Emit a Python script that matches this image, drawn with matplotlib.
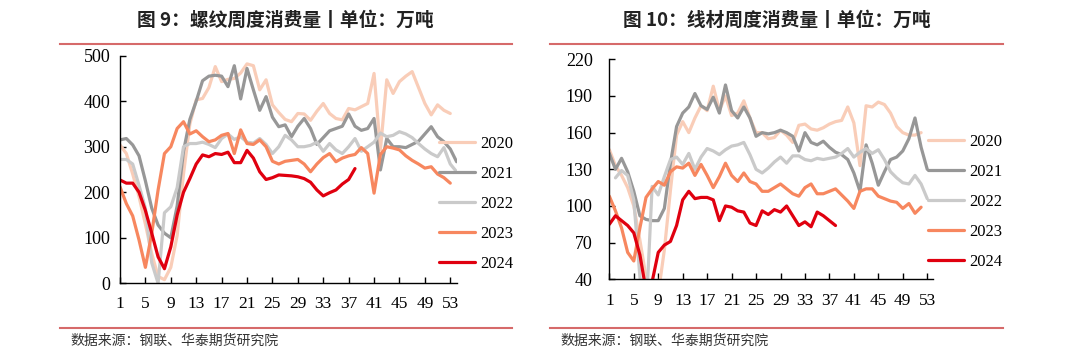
import numpy as np
import matplotlib
matplotlib.use("Agg")
import matplotlib.pyplot as plt
from matplotlib.lines import Line2D

# weekly consumption, 万吨
years = ["2020", "2021", "2022", "2023", "2024"]
colors = ["#F9CDB8", "#979797", "#CACACA", "#F7875F", "#E0000F"]

rebar_2020 = [304, 285, 240, 190, 130, 65, 15, 8, 35, 105,
              240, 350, 403, 406, 430, 476, 443, 448, 450, 462,
              482, 478, 425, 447, 392, 375, 360, 355, 373, 372,
              358, 378, 395, 373, 362, 359, 384, 381, 388, 395,
              461, 293, 447, 417, 443, 455, 465, 430, 395, 370,
              392, 380, 373]
rebar_2021 = [315, 318, 304, 280, 225, 165, 128, 110, 100, 170,
              290, 360, 400, 445, 455, 457, 455, 432, 478, 405,
              472, 425, 380, 410, 365, 344, 348, 322, 345, 362,
              340, 305, 320, 335, 340, 345, 372, 345, 336, 340,
              362, 249, 318, 300, 300, 298, 305, 312, 328, 344,
              322, 311, 295, 267]
rebar_2022 = [272, 272, 262, 215, 165, 45, 0, 155, 168, 210,
              300, 307, 307, 310, 305, 298, 318, 328, 316, 322,
              310, 308, 318, 305, 285, 300, 325, 315, 300, 300,
              303, 310, 290, 307, 293, 285, 300, 318, 290, 300,
              310, 330, 322, 325, 333, 328, 320, 307, 295, 285,
              278, 298, 262, 245]
rebar_2023 = [212, 175, 148, 95, 35, 110, 205, 285, 300, 340,
              355, 328, 335, 322, 311, 315, 325, 329, 285, 337,
              307, 305, 315, 300, 268, 262, 268, 270, 272, 262,
              245, 262, 276, 285, 267, 275, 280, 283, 298, 285,
              198, 283, 300, 297, 293, 280, 270, 262, 253, 256,
              240, 232, 220]
rebar_2024 = [227, 220, 220, 200, 160, 110, 58, 32, 80, 150,
              200, 230, 262, 282, 278, 285, 283, 288, 265, 265,
              292, 275, 245, 228, 232, 238, 237, 236, 234, 230,
              222, 205, 192, 199, 205, 218, 228, 252]

wire_2020 = [146, 133, 125, 115, 100, 72, 42, 20, 28, 64,
             113, 158, 169, 160, 172, 182, 178, 198, 178, 190,
             174, 176, 186, 172, 160, 160, 155, 156, 162, 158,
             152, 166, 167, 163, 162, 164, 167, 169, 170, 181,
             168, 133, 182, 181, 185, 183, 176, 165, 160, 158,
             158, 160]
wire_2021 = [143, 130, 139, 128, 112, 92, 89, 88, 88, 98,
             135, 165, 176, 181, 192, 182, 179, 189, 176, 199,
             178, 172, 181, 172, 157, 160, 159, 160, 162, 160,
             157, 145, 160, 152, 150, 153, 148, 144, 142, 138,
             127, 112, 150, 135, 117, 128, 138, 140, 145, 155,
             172, 148, 130]
wire_2022 = [np.nan, 123, 129, 125, 105, 42, 10, 116, 109, 124,
             138, 140, 134, 143, 130, 140, 147, 145, 142, 146,
             149, 150, 152, 142, 130, 127, 131, 136, 140, 135,
             141, 141, 138, 137, 139, 138, 139, 140, 143, 147,
             140, 144, 147, 143, 146, 138, 128, 123, 119, 118,
             125, 118, 106]
wire_2023 = [108, 96, 82, 62, 55, 82, 107, 114, 120, 117,
             128, 132, 131, 135, 125, 134, 125, 115, 124, 135,
             125, 120, 127, 120, 118, 112, 112, 115, 118, 114,
             110, 108, 115, 118, 110, 110, 112, 114, 109, 104,
             98, 112, 114, 114, 108, 106, 104, 103, 98, 102,
             94, 99]
wire_2024 = [85, 92, 88, 84, 78, 60, 31, 38, 62, 68,
             71, 84, 105, 112, 106, 107, 107, 105, 88, 100,
             99, 96, 95, 86, 84, 96, 93, 97, 95, 100,
             92, 84, 87, 83, 95, 92, 88, 84]

week_ticks = list(range(1, 54, 4))

plt.rcParams["font.family"] = ["Liberation Serif", "Noto Sans CJK SC"]
cjk = ["Noto Sans CJK SC", "DejaVu Sans"]
line_red = "#D66A6A"

fig = plt.figure(figsize=(10.8, 3.59), dpi=100)
ax1 = fig.add_axes([0.1111, 0.2109, 0.3117, 0.634])
ax2 = fig.add_axes([0.5642, 0.222, 0.3, 0.6128])


def draw(ax, series, ylim, yticks, ypad, xpad, legend_xy):
    for year, vals, c in zip(years, series, colors):
        x = np.arange(1, len(vals) + 1)
        ax.plot(x, vals, color=c, lw=2.3, label=year,
                solid_joinstyle="round", solid_capstyle="round")
    ax.set_xlim(1, 54)
    ax.set_ylim(*ylim)
    ax.set_xticks(week_ticks)
    ax.set_yticks(yticks)
    for s in ["top", "right"]:
        ax.spines[s].set_visible(False)
    for s in ["left", "bottom"]:
        ax.spines[s].set_linewidth(1.0)
        ax.spines[s].set_color("black")
    ax.tick_params(axis="both", direction="in", length=4, width=1, labelsize=12.5)
    ax.tick_params(axis="y", labelsize=13, pad=ypad)
    ax.tick_params(axis="x", pad=xpad)
    ax.legend(loc="upper left", bbox_to_anchor=legend_xy, bbox_transform=fig.transFigure,
              frameon=False, handlelength=2.15, handletextpad=0.3, labelspacing=0.84,
              borderpad=0, borderaxespad=0, prop={"family": "Liberation Serif", "size": 12})


draw(ax1, [rebar_2020, rebar_2021, rebar_2022, rebar_2023, rebar_2024],
     (0, 500), range(0, 501, 100), 7, 9, (0.4065, 0.622))
draw(ax2, [wire_2020, wire_2021, wire_2022, wire_2023, wire_2024],
     (40, 220), range(40, 221, 30), 12, 10, (0.8593, 0.627))

fig.text(0.264, 0.944, "图 9：螺纹周度消费量丨单位：万吨", ha="center", va="center",
         family=cjk, fontsize=13.5, fontweight="bold", color="#222222")
fig.text(0.719, 0.944, "图 10：线材周度消费量丨单位：万吨", ha="center", va="center",
         family=cjk, fontsize=13.5, fontweight="bold", color="#222222")

for x0, x1 in [(60, 512), (550, 1003)]:
    for yp in [44, 328]:
        fig.add_artist(Line2D([x0 / 1080, x1 / 1080], [1 - yp / 359, 1 - yp / 359],
                              transform=fig.transFigure, color=line_red, lw=1.5))

fig.text(70 / 1080, 1 - 341 / 359, "数据来源：钢联、华泰期货研究院", ha="left", va="center",
         family=cjk, fontsize=10, color="#333333")
fig.text(560 / 1080, 1 - 341 / 359, "数据来源：钢联、华泰期货研究院", ha="left", va="center",
         family=cjk, fontsize=10, color="#333333")

fig.savefig("out.png", dpi=100)
